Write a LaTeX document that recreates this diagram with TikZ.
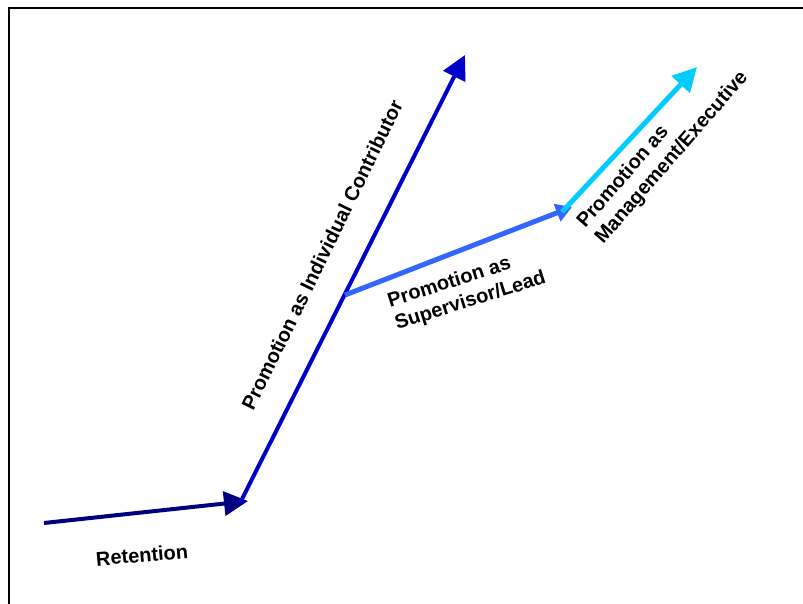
\documentclass[tikz,border=0pt]{standalone}
\usepackage{fontspec}
\setmainfont{Liberation Sans}
\usetikzlibrary{
    arrows.meta,
    positioning
}
\definecolor{navyRet}{RGB}{0,0,128}
\definecolor{blueIC}{RGB}{0,0,204}
\definecolor{blueSup}{RGB}{51,102,255}
\definecolor{cyanMgt}{RGB}{0,204,255}
\tikzset{
  arr/.style  = {-{Triangle[length=12pt,width=12pt]}, line width=2pt},
  arrs/.style = {-{Triangle[length=8pt,width=9pt]}, line width=2.5pt},
  lbl/.style  = {font=\fontsize{10}{12}\selectfont\bfseries, align=left,
                 inner sep=0pt}
}

\begin{document}
\begin{tikzpicture}[x=0.5pt, y=-0.5pt]
    \useasboundingbox (0,0) rectangle (803,604);
    \clip (0,0) rectangle (803,604);
    \draw[line width=0.8pt] (9,8) rectangle (815,615);

    \coordinate (retS) at (44,523);
    \coordinate (retE) at (248,501);
    \coordinate (icS)  at (240,503);
    \coordinate (icE)  at (465,55);
    \coordinate (supS) at (345,295);
    \coordinate (supE) at (572,207);
    \coordinate (mgtS) at (562,212);
    \coordinate (mgtE) at (697,67);

    \draw[arr, navyRet] (retS) -- (retE);
    \draw[arr, blueIC] (icS) -- (icE);
    \draw[arrs, blueSup] (supS) -- (supE);
    \draw[arr, cyanMgt, line width=2.5pt] (mgtS) -- (mgtE);

    \node[lbl, rotate=5]  (ret) at (142,555) {Retention};
    \node[lbl, rotate=64] (ic)  at (322,255) {Promotion as Individual Contributor};
    \node[lbl, rotate=17.5] (sup) at (467,290) {Promotion as\\Supervisor/Lead};
    \node[lbl, rotate=49] (mgt) at (663,150) {Promotion as\\Management/Executive};
\end{tikzpicture}
\end{document}
